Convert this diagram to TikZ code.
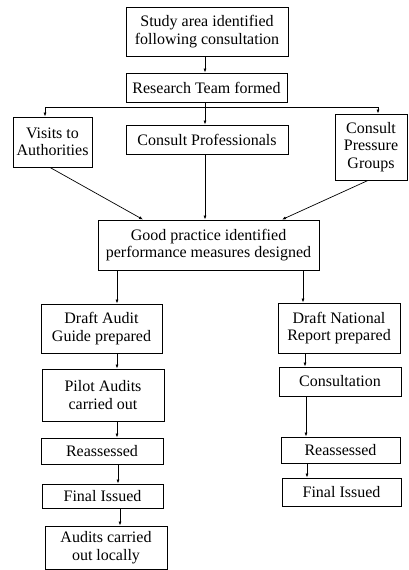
\documentclass[tikz,border=0pt]{standalone}
\usepackage{fontspec}
\setmainfont{Liberation Serif}
\usetikzlibrary{arrows.meta,calc}
\tikzset{
  stage/.style={draw, line width=0.9pt, inner sep=0pt, align=center,
    font=\fontsize{16}{17.5}\selectfont},
  flow/.style={line width=0.7pt, -{Latex[length=4pt,width=3pt]}}
}
\begin{document}
\begin{tikzpicture}[x=1pt, y=-1pt]
    \useasboundingbox (0,0) rectangle (408,570);

    % coordinates to be reused
    \coordinate (colL) at (117,0);
    \coordinate (colR) at (305,0);
    \coordinate (split) at (205,107);

    % draw figure
    \node [stage, minimum width=162pt, minimum height=49pt] (study) at (207,31.5) {Study area identified\\following consultation};
    \node [stage, minimum width=161pt, minimum height=29pt] (team) at (206.5,87.5) {Research Team formed};
    \node [stage, minimum width=79pt, minimum height=50pt] (visits) at (52.5,142) {Visits to\\Authorities};
    \node [stage, minimum width=162pt, minimum height=29pt] (profs) at (207,139.5) {Consult Professionals};
    \node [stage, minimum width=72pt, minimum height=66pt] (pressure) at (371,147) {Consult\\Pressure\\Groups};
    \node [stage, minimum width=221pt, minimum height=50pt] (good) at (208.5,245) {Good practice identified\\performance measures designed};
    \node [stage, minimum width=121pt, minimum height=49pt] (guide) at (101.5,328.5) {Draft Audit\\Guide prepared};
    \node [stage, minimum width=122pt, minimum height=50pt] (national) at (339,328) {Draft National\\Report prepared};
    \node [stage, minimum width=122pt, minimum height=52pt] (pilot) at (103,395) {Pilot Audits\\carried out};
    \node [stage, minimum width=122pt, minimum height=29pt] (consult) at (340,381.5) {Consultation};
    \node [stage, minimum width=122pt, minimum height=26pt] (reassL) at (102,451) {Reassessed};
    \node [stage, minimum width=119pt, minimum height=26pt] (reassR) at (340.5,450) {Reassessed};
    \node [stage, minimum width=121pt, minimum height=24pt] (finalL) at (102.5,496) {Final Issued};
    \node [stage, minimum width=119pt, minimum height=28pt] (finalR) at (341.5,492) {Final Issued};
    \node [stage, minimum width=122pt, minimum height=43pt] (local) at (106,547.5) {Audits carried\\out locally};

    % connectors
    \draw [flow] ([xshift=-2pt]study.south) -- ([xshift=-1.5pt]team.north);
    \draw [line width=0.7pt] ([xshift=-1.5pt]team.south) -- (split);
    \draw [flow] (split) -| ([xshift=-7.5pt]visits.north);
    \draw [flow] (split) -| ([xshift=7pt]pressure.north);
    \draw [flow] (split) -- ([xshift=-2pt]profs.north);
    \draw [flow] ([xshift=-2.5pt]visits.south) -- ([xshift=-65.5pt]good.north);
    \draw [flow] ([xshift=-2pt]profs.south) -- ([xshift=-3.5pt]good.north);
    \draw [flow] ([xshift=-3pt]pressure.south) -- ([xshift=73.5pt]good.north);
    \draw [flow] (good.south -| colL) -- (guide.north -| colL);
    \draw [flow] ([xshift=-2pt]good.south -| colR) -- ([xshift=-2pt]national.north -| colR);
    \draw [flow] (guide.south -| colL) -- (pilot.north -| colL);
    \draw [flow] (pilot.south -| colL) -- (reassL.north -| colL);
    \draw [flow] ([xshift=1pt]reassL.south -| colL) -- ([xshift=1pt]finalL.north -| colL);
    \draw [flow] ([xshift=3pt]finalL.south -| colL) -- ([xshift=3pt]local.north -| colL);
    \draw [flow] (national.south -| colR) -- (consult.north -| colR);
    \draw [flow] ([xshift=1pt]consult.south -| colR) -- ([xshift=1pt]reassR.north -| colR);
    \draw [flow] ([xshift=2pt]reassR.south -| colR) -- ([xshift=2pt]finalR.north -| colR);
\end{tikzpicture}
\end{document}
